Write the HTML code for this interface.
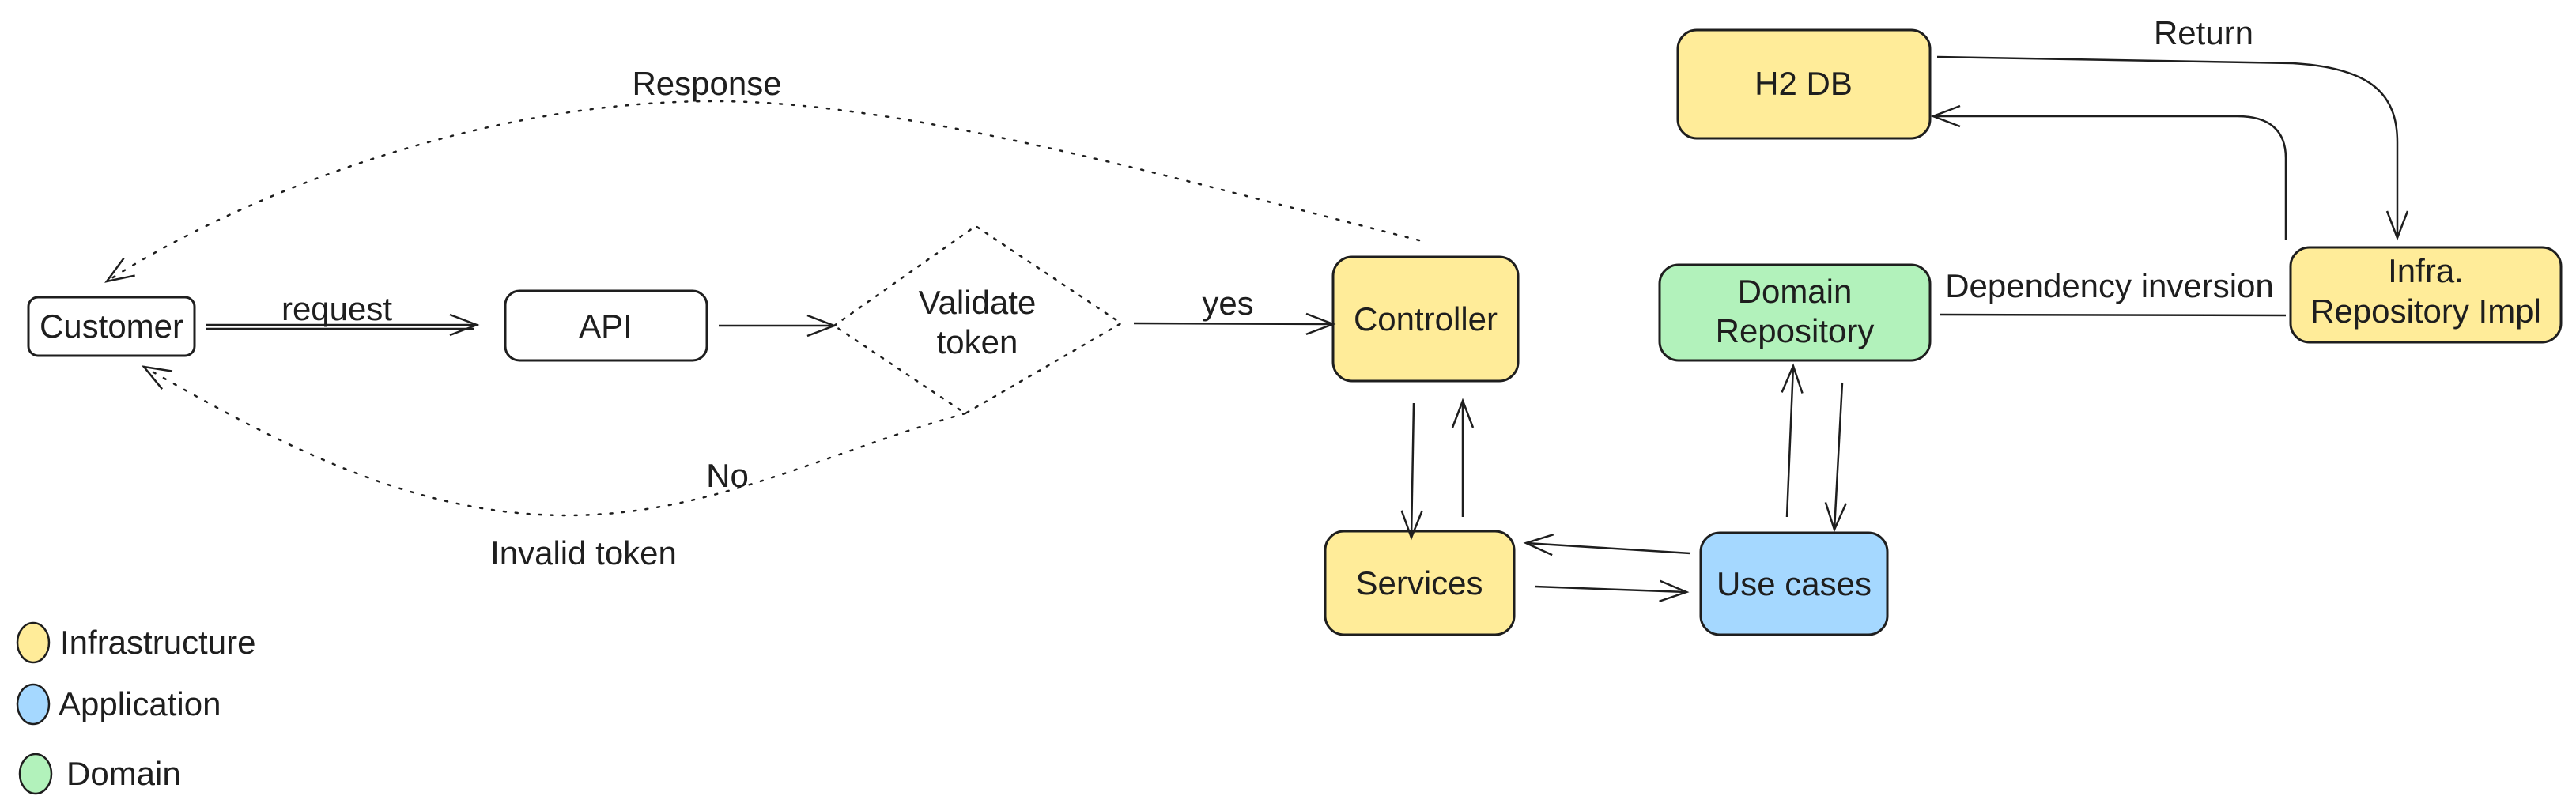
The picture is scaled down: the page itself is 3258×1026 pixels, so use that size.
<!DOCTYPE html>
<html><head><meta charset="utf-8"><style>
html,body{margin:0;padding:0;background:#fff;overflow:hidden}
svg{display:block}
text{font-family:"Liberation Sans",sans-serif;fill:#1e1e1e;font-size:42px}
</style></head><body>
<svg width="3258" height="1026" viewBox="0 0 3258 1026" xmlns="http://www.w3.org/2000/svg">
<defs>
<marker id="ah" markerWidth="40" markerHeight="30" refX="36" refY="15" orient="auto" markerUnits="userSpaceOnUse">
<path d="M2,2 L36,15 L2,28" fill="none" stroke="#1e1e1e" stroke-width="2.5"/>
</marker>
</defs>
<g stroke="#1e1e1e" stroke-width="3" fill="none">
<rect x="36" y="376" width="210" height="74" rx="12"/>
<rect x="639" y="368" width="255" height="88" rx="18"/>
<rect x="1686" y="325" width="234" height="157" rx="24" fill="#ffec99"/>
<rect x="1676" y="672" width="239" height="131" rx="24" fill="#ffec99"/>
<rect x="2151" y="674" width="236" height="129" rx="24" fill="#a5d8ff"/>
<rect x="2099" y="335" width="342" height="121" rx="24" fill="#b2f2bb"/>
<rect x="2122" y="38" width="319" height="137" rx="24" fill="#ffec99"/>
<rect x="2897" y="313" width="342" height="120" rx="24" fill="#ffec99"/>
<ellipse cx="42" cy="813" rx="20" ry="25" fill="#ffec99" stroke-width="2.5"/>
<ellipse cx="42" cy="891" rx="20" ry="25" fill="#a5d8ff" stroke-width="2.5"/>
<ellipse cx="45" cy="979" rx="20" ry="25" fill="#b2f2bb" stroke-width="2.5"/>
</g>
<g stroke="#1e1e1e" stroke-width="2.5" fill="none">
<path d="M1055,412 L1234,286 L1418,409 L1221,523 Z" stroke-dasharray="3,10" stroke-linecap="round"/>
<path d="M1795,304 C1500,230 1150,128 904,128 C600,128 300,250 135,356" stroke-dasharray="3,12" stroke-linecap="round" marker-end="url(#ah)"/>
<path d="M1221,523 C1050,570 900,652 717,652 C520,652 350,560 182,464" stroke-dasharray="3,12" stroke-linecap="round" marker-end="url(#ah)"/>
<path d="M260,411 L603,411" marker-end="url(#ah)"/>
<path d="M260,416 L600,416"/>
<path d="M909,412 L1055,412" marker-end="url(#ah)"/>
<path d="M1434,409 L1686,410" marker-end="url(#ah)"/>
<path d="M1788,510 L1785,680" marker-end="url(#ah)"/>
<path d="M1850,654 L1850,507" marker-end="url(#ah)"/>
<path d="M2138,700 L1930,687" marker-end="url(#ah)"/>
<path d="M1941,742 L2133,749" marker-end="url(#ah)"/>
<path d="M2260,654 L2268,463" marker-end="url(#ah)"/>
<path d="M2330,484 L2320,670" marker-end="url(#ah)"/>
<path d="M2453,398 L2891,399"/>
<path d="M2450,72 L2900,80 C3000,86 3032,120 3032,180 L3032,301" marker-end="url(#ah)"/>
<path d="M2891,304 L2891,200 C2891,165 2870,147 2830,147 L2445,147" marker-end="url(#ah)"/>
</g>
<g text-anchor="middle">
<text x="141" y="427">Customer</text>
<text x="766" y="427">API</text>
<text x="1236" y="397">Validate</text>
<text x="1236" y="447">token</text>
<text x="426" y="405">request</text>
<text x="1553" y="398">yes</text>
<text x="894" y="120">Response</text>
<text x="920" y="616">No</text>
<text x="738" y="714">Invalid token</text>
<text x="1803" y="418">Controller</text>
<text x="1795" y="752">Services</text>
<text x="2269" y="753">Use cases</text>
<text x="2270" y="383">Domain</text>
<text x="2270" y="433">Repository</text>
<text x="2281" y="120">H2 DB</text>
<text x="3068" y="357">Infra.</text>
<text x="3068" y="408">Repository Impl</text>
<text x="2787" y="56">Return</text>
<text x="2668" y="376">Dependency inversion</text>
</g>
<g>
<text x="76" y="827">Infrastructure</text>
<text x="74" y="905">Application</text>
<text x="84" y="993">Domain</text>
</g>
</svg>
</body></html>
